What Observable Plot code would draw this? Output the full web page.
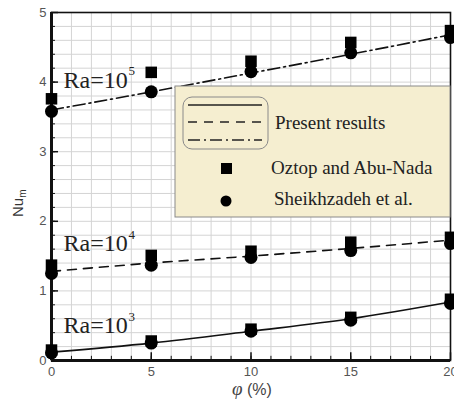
<!DOCTYPE html>
<html><head><meta charset="utf-8">
<script src="https://cdn.jsdelivr.net/npm/d3@7"></script>
<script src="https://cdn.jsdelivr.net/npm/@observablehq/plot@0.6"></script>
<style>
body{margin:0;background:#fff;}
#wrap{position:relative;width:454px;height:402px;}
#wrap svg{position:absolute;left:0;top:0;}
</style></head>
<body><div id="wrap"></div>
<script>
const phi = [0, 5, 10, 15, 20];
// Present results (lines)
const present3 = [0.12, 0.25, 0.42, 0.60, 0.84];
const present4 = [1.28, 1.40, 1.50, 1.61, 1.73];
const present5 = [3.60, 3.86, 4.13, 4.40, 4.68];
// Oztop and Abu-Nada (squares)
const oztop3 = [0.15, 0.28, 0.45, 0.62, 0.88];
const oztop4 = [1.37, 1.51, 1.57, 1.70, 1.77];
const oztop5 = [3.76, 4.14, 4.30, 4.57, 4.74];
// Sheikhzadeh et al. (circles)
const sheikh3 = [0.11, 0.25, 0.42, 0.58, 0.82];
const sheikh4 = [1.25, 1.37, 1.48, 1.58, 1.68];
const sheikh5 = [3.58, 3.86, 4.15, 4.42, 4.64];
const xTicks = [0, 5, 10, 15, 20];
const yTicks = [0, 1, 2, 3, 4, 5];
const raLabels = [
  {x: 0.6, y: 4.03, base: "Ra=10", exp: "5"},
  {x: 0.6, y: 1.68, base: "Ra=10", exp: "4"},
  {x: 0.6, y: 0.50, base: "Ra=10", exp: "3"}
];
const legendLabels = ["Present results", "Oztop and Abu-Nada", "Sheikhzadeh et al."];

const toRows = (arr) => phi.map((p, i) => ({phi: p, v: arr[i]}));
const minorX = d3.range(0, 20.001, 1);
const minorY = d3.range(0, 5.001, 0.2);

const serif = "'Liberation Serif', 'Times New Roman', serif";
const sans = "'Liberation Sans', Arial, sans-serif";

const chart = Plot.plot({
  width: 454, height: 402,
  marginLeft: 51, marginRight: 4, marginTop: 12, marginBottom: 42,
  style: {background: "transparent", fontFamily: sans},
  x: {domain: [0, 20]},
  y: {domain: [0, 5]},
  marks: [
    Plot.gridX(minorX, {stroke: "#d4d4d4", strokeOpacity: 1}),
    Plot.gridY(minorY, {stroke: "#d4d4d4", strokeOpacity: 1}),
    Plot.axisX(xTicks, {tickSize: 0, tickPadding: 6, fontSize: 13, fill: "#555", label: null, tickFormat: "d"}),
    Plot.axisY(yTicks, {tickSize: 0, tickPadding: 5, fontSize: 13, fill: "#555", label: null, tickFormat: "d"}),
    // inward ticks
    Plot.ruleX(minorX, {x: d => d, y1: 0, y2: 0.06, stroke: "#111", strokeWidth: 1}),
    Plot.ruleX(xTicks, {x: d => d, y1: 0, y2: 0.11, stroke: "#111", strokeWidth: 1.5}),
    Plot.ruleY(minorY, {y: d => d, x1: 0, x2: 0.2, stroke: "#111", strokeWidth: 1}),
    Plot.ruleY(yTicks, {y: d => d, x1: 0, x2: 0.35, stroke: "#111", strokeWidth: 1.5}),
    Plot.frame({stroke: "#111", strokeWidth: 1.6}),
    Plot.ruleX([0], {stroke: "#111", strokeWidth: 3}),
    Plot.ruleY([0], {stroke: "#111", strokeWidth: 3}),
    // present results
    Plot.line(toRows(present3), {x: "phi", y: "v", stroke: "#111", strokeWidth: 1.6, curve: "monotone-x"}),
    Plot.line(toRows(present4), {x: "phi", y: "v", stroke: "#111", strokeWidth: 1.6, strokeDasharray: "9,7", curve: "monotone-x"}),
    Plot.line(toRows(present5), {x: "phi", y: "v", stroke: "#111", strokeWidth: 1.6, strokeDasharray: "12,4,2,4", curve: "monotone-x"}),
    // Oztop squares
    Plot.dot([...toRows(oztop3), ...toRows(oztop4), ...toRows(oztop5)], {x: "phi", y: "v", symbol: "square", r: 6.5, fill: "#000", stroke: "none"}),
    // Sheikhzadeh circles
    Plot.dot([...toRows(sheikh3), ...toRows(sheikh4), ...toRows(sheikh5)], {x: "phi", y: "v", symbol: "circle", r: 6.5, fill: "#000", stroke: "none"}),
    // Ra labels
    Plot.text(raLabels, {x: "x", y: "y", text: d => d.base, textAnchor: "start", fontSize: 24, fontFamily: serif, fill: "#222"}),
    Plot.text(raLabels, {x: "x", y: "y", text: d => d.exp, textAnchor: "start", dx: 65, dy: -9, fontSize: 13, fontFamily: serif, fill: "#222"})
  ]
});
document.getElementById("wrap").appendChild(chart);

// overlay: legend + axis labels
const ov = d3.select("#wrap").append("svg").attr("width", 454).attr("height", 402).style("pointer-events", "none");
const lg = ov.append("g");
lg.append("rect").attr("x", 175).attr("y", 86).attr("width", 275).attr("height", 131)
  .attr("fill", "#f5eed0").attr("stroke", "#8a8a8a").attr("stroke-width", 1);
lg.append("rect").attr("x", 183).attr("y", 97).attr("width", 85).attr("height", 52).attr("rx", 9)
  .attr("fill", "none").attr("stroke", "#8a8a8a").attr("stroke-width", 1);
const lineStyles = [null, "9,7", "12,4,2,4"];
[105, 122, 140].forEach((yy, i) => {
  lg.append("line").attr("x1", 188).attr("x2", 262).attr("y1", yy).attr("y2", yy)
    .attr("stroke", "#222").attr("stroke-width", 1.5).attr("stroke-dasharray", lineStyles[i]);
});
lg.append("rect").attr("x", 221).attr("y", 163).attr("width", 11).attr("height", 11).attr("fill", "#000");
lg.append("circle").attr("cx", 226).attr("cy", 201).attr("r", 5.5).attr("fill", "#000");
const lt = [[275, 129, 19], [271, 174, 19], [274, 205, 19]];
legendLabels.forEach((t, i) => {
  lg.append("text").attr("x", lt[i][0]).attr("y", lt[i][1]).attr("font-size", lt[i][2])
    .attr("font-family", serif).attr("fill", "#222").text(t);
});
// y label Nu_m
const yl = ov.append("text").attr("transform", "translate(23,217) rotate(-90)").attr("text-anchor", "start")
  .attr("font-family", sans).attr("font-size", 15).attr("fill", "#333");
yl.append("tspan").text("Nu");
yl.append("tspan").attr("font-size", 10).attr("dy", 3).text("m");
// x label
const xl = ov.append("text").attr("x", 252).attr("y", 395).attr("text-anchor", "middle")
  .attr("font-family", sans).attr("font-size", 16).attr("fill", "#444");
xl.append("tspan").attr("font-style", "italic").attr("font-family", serif).attr("font-size", 19).text("φ");
xl.append("tspan").text(" (%)");
</script></body></html>
